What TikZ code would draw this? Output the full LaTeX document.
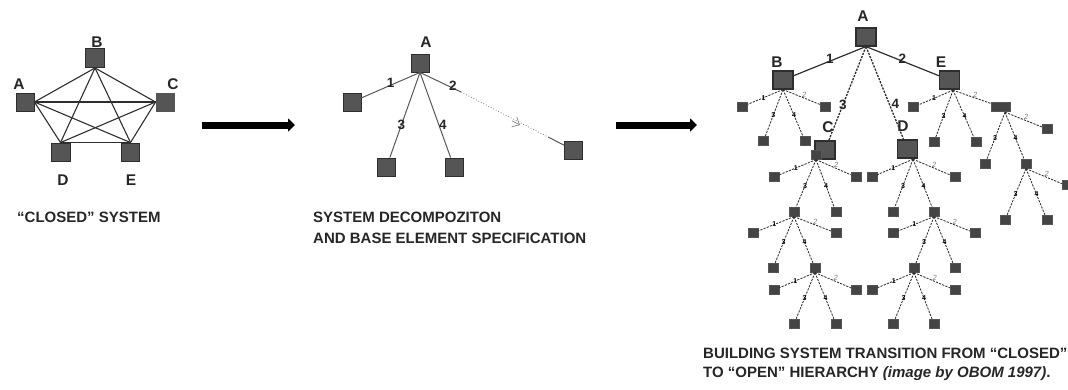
\documentclass[tikz,border=0pt]{standalone}
\usepackage{fontspec}
\setmainfont{Liberation Sans}
\usetikzlibrary{arrows.meta}
\definecolor{sqfill}{HTML}{555555}
\definecolor{sqline}{HTML}{2E2E2E}
\definecolor{ink}{HTML}{262626}
\tikzset{
  sq/.style={draw=sqline,fill=sqfill,line width=.9pt,inner sep=0pt,minimum width=18pt,minimum height=18pt},
  bigsq/.style={sq,minimum width=20pt,minimum height=18pt,line width=1.1pt},
  smallsq/.style={fill=sqfill!110!white,draw=sqfill,line width=.3pt,inner sep=0pt,minimum width=10pt,minimum height=9pt},
  hub/.style={inner sep=0pt,minimum size=0pt},
  name label/.style={font=\bfseries\fontsize{15.5}{17}\selectfont,text=ink,inner sep=0pt},
  caption/.style={font=\fontsize{15}{17}\selectfont\bfseries,text=ink,inner sep=0pt,anchor=west},
  mesh/.style={draw=sqline,line width=1.1pt},
  solidedge/.style={draw=sqline,line width=1pt},
  fanedge/.style={draw=sqline,line width=.85pt,dash pattern=on 2.2pt off 1.2pt},
  edgeno/.style={font=\bfseries\fontsize{13.5}{15}\selectfont,text=ink,inner sep=0pt},
  tinyno/.style={font=\bfseries\fontsize{7}{8}\selectfont,text=black,inner sep=0pt},
  tinygray/.style={font=\itshape\fontsize{7.5}{8}\selectfont,text=gray,inner sep=0pt},
  bigarrow/.style={draw=black,line width=7pt,-{Triangle[length=7pt,width=13pt]}},
}
\newcommand{\fanthree}[4]{%
  \draw[fanedge] (#1.south) -- node[tinygray,pos=.55,xshift=1pt,yshift=3pt]{2} (#2);
  \draw[fanedge] (#1.south) -- node[tinyno,pos=.55]{3} (#3);
  \draw[fanedge] (#1.south) -- node[tinyno,pos=.55]{4} (#4);
}
\newcommand{\fanfour}[5]{%
  \draw[fanedge] (#1.south) -- node[tinyno,pos=.55]{1} (#2);
  \fanthree{#1}{#3}{#4}{#5}%
}
\begin{document}
\begin{tikzpicture}[x=1pt,y=-1pt]
\useasboundingbox (0,0) rectangle (1068,389);

% closed system
\node[sq] (a1) at (25,102) {};
\node[sq,minimum width=19pt,minimum height=19pt] (b1) at (95,58) {};
\node[sq,draw=sqfill] (c1) at (165,102) {};
\node[sq,minimum width=19pt] (d1) at (60.5,152) {};
\node[sq] (e1) at (130.5,152) {};
\node[name label] at (19,84) {A};
\node[name label] at (97,42) {B};
\node[name label] at (173,84) {C};
\node[name label] at (63,180) {D};
\node[name label] at (131,180) {E};
\draw[mesh] (a1.east) -- (b1.south);
\draw[mesh] (a1.east) -- (c1.west);
\draw[mesh] (a1.east) -- (d1.north);
\draw[mesh] (a1.east) -- (e1.north);
\draw[mesh] (b1.south) -- (c1.west);
\draw[mesh] (b1.south) -- (d1.north);
\draw[mesh] (b1.south) -- (e1.north);
\draw[mesh] (c1.west) -- (d1.north);
\draw[mesh] (c1.west) -- (e1.north);
\draw[mesh] (d1.north) -- (e1.north);
\node[caption] at (17,217) {“CLOSED” SYSTEM};

% arrows
\coordinate (ar1s) at (202,125);
\coordinate (ar1e) at (295,125);
\coordinate (ar2s) at (616,125);
\coordinate (ar2e) at (697,125);
\draw[bigarrow] (ar1s) -- (ar1e);
\draw[bigarrow] (ar2s) -- (ar2e);

% decomposition
\node[sq] (a2) at (420,63) {};
\node[name label] at (426,42) {A};
\node[sq] (l2) at (352,102) {};
\node[sq] (d3) at (386.5,167) {};
\node[sq] (d4) at (454,167) {};
\node[sq] (r2) at (573.5,150) {};
\draw[solidedge,draw=sqline!80!white] (a2.south) -- node[edgeno,pos=.5,above=-3pt]{1} (l2);
\draw[solidedge,draw=sqline!80!white] (a2.south) -- node[edgeno,pos=.62]{3} (d3);
\draw[solidedge,draw=sqline!80!white] (a2.south) -- node[edgeno,pos=.62,xshift=4pt]{4} (d4);
\coordinate (p1) at (461,92);
\coordinate (p2) at (548,137);
\coordinate (tipa) at (520,125);
\coordinate (tipb) at (512,120.8);
\draw[solidedge,draw=sqline!80!white] (a2.south) -- node[edgeno,pos=.8,above=-3pt]{2} (p1);
\draw[draw=gray,line width=.8pt,dotted] (p1) -- (p2);
\draw[solidedge,draw=sqline!80!white] (p2) -- (r2);
\draw[draw=gray,line width=.7pt,-{Straight Barb[length=6pt,width=11pt]}] (tipb) -- (tipa);
\node[caption] at (313,217) {SYSTEM DECOMPOZITON};
\node[caption] at (313,238) {AND BASE ELEMENT SPECIFICATION};

% hierarchy: upper levels
\node[bigsq] (ha) at (866,37) {};
\node[name label] at (863,16) {A};
\node[bigsq] (hb) at (783,80) {};
\node[name label] at (777,62) {B};
\node[bigsq] (he) at (949.5,80) {};
\node[name label] at (941,62) {E};
\node[bigsq] (hc) at (825,150) {};
\node[name label] at (828,127) {C};
\node[bigsq] (hd) at (907.5,149) {};
\node[name label] at (903,126) {D};
\draw[solidedge,line width=1.2pt] (ha.south) -- node[edgeno,pos=.5,above=-3pt]{1} (hb);
\draw[solidedge,line width=1.2pt] (ha.south) -- node[edgeno,pos=.5,above=-3pt]{2} (he);
\draw[fanedge,line width=1.3pt] (ha.south) -- node[edgeno,pos=.62]{3} (hc);
\draw[fanedge,line width=1.3pt] (ha.south) -- node[edgeno,pos=.62,xshift=6pt]{4} (hd);

% children of B
\node[smallsq] (b11) at (742.5,106.5) {};
\node[smallsq] (b12) at (825,106.5) {};
\node[smallsq] (b13) at (763.5,141) {};
\node[smallsq] (b14) at (805,141) {};
\fanfour{hb}{b11}{b12}{b13}{b14}

% children of E
\node[hub] (ehub) at (953,90) {};
\node[smallsq] (e11) at (913.5,107) {};
\node[smallsq,minimum width=19pt] (e12) at (1001,107) {};
\node[smallsq] (e13) at (934,142) {};
\node[smallsq] (e14) at (976,142) {};
\fanfour{ehub}{e11}{e12}{e13}{e14}

\node[hub] (e2hub) at (1005,112) {};
\node[smallsq] (e22) at (1047,129) {};
\node[smallsq] (e23) at (985,164) {};
\node[smallsq] (e24) at (1026,164) {};
\fanthree{e2hub}{e22}{e23}{e24}

\node[smallsq,minimum width=6pt] (e32) at (1065,185) {};
\node[smallsq] (e33) at (1005,220) {};
\node[smallsq] (e34) at (1047,220) {};
\fanthree{e24}{e32}{e33}{e34}

% children of C
\node[smallsq] (csm) at (816,155) {};
\node[smallsq] (c11) at (774,177) {};
\node[smallsq] (c12) at (856,177) {};
\node[smallsq] (c13) at (794,212) {};
\node[smallsq] (c14) at (836,212) {};
\fanfour{csm}{c11}{c12}{c13}{c14}

\node[smallsq] (c21) at (753,233) {};
\node[smallsq] (c22) at (836,233) {};
\node[smallsq] (c23) at (773,268) {};
\node[smallsq] (c24) at (815,268) {};
\fanfour{c13}{c21}{c22}{c23}{c24}

\node[smallsq] (c31) at (774,290) {};
\node[smallsq] (c32) at (856,290) {};
\node[smallsq] (c33) at (794,324) {};
\node[smallsq] (c34) at (836,324) {};
\fanfour{c24}{c31}{c32}{c33}{c34}

% children of D
\node[hub] (dhub) at (913,159) {};
\node[smallsq] (d11) at (872,177) {};
\node[smallsq] (d12) at (955,177) {};
\node[smallsq] (d13) at (893,212) {};
\node[smallsq] (d14) at (934,212) {};
\fanfour{dhub}{d11}{d12}{d13}{d14}

\node[smallsq] (d21) at (893,233) {};
\node[smallsq] (d22) at (975,233) {};
\node[smallsq] (d23) at (914,268) {};
\node[smallsq] (d24) at (955,268) {};
\fanfour{d14}{d21}{d22}{d23}{d24}

\node[smallsq] (d31) at (872,290) {};
\node[smallsq] (d32) at (955,290) {};
\node[smallsq] (d33) at (893,324) {};
\node[smallsq] (d34) at (934,324) {};
\fanfour{d23}{d31}{d32}{d33}{d34}

\node[caption] at (703,353) {BUILDING SYSTEM TRANSITION FROM “CLOSED”};
\node[caption] at (703,374) {TO “OPEN”  HIERARCHY \textit{(image by OBOM 1997)}.};
\end{tikzpicture}
\end{document}
